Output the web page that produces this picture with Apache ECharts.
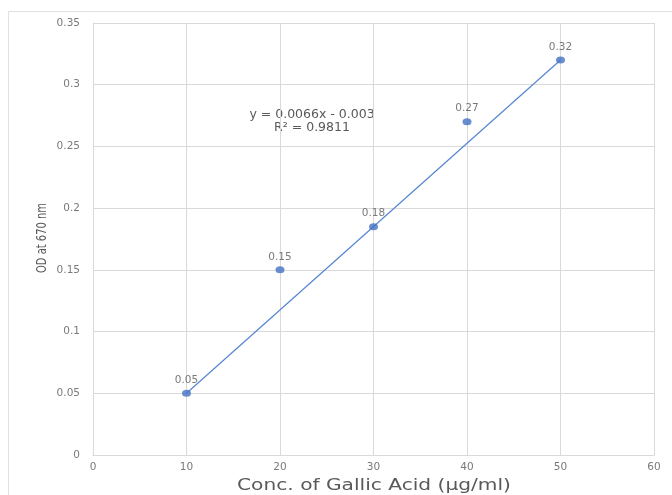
<!DOCTYPE html>
<html>
<head>
<meta charset="utf-8">
<script src="https://cdn.jsdelivr.net/npm/echarts@6/dist/echarts.min.js"></script>
<style>html,body{margin:0;padding:0;background:#fff;}#c{width:672px;height:495px;}</style>
</head>
<body>
<div id="c"></div>
<script>
var concX = [10, 20, 30, 40, 50];
var odY = [0.05, 0.15, 0.185, 0.27, 0.32];
var pointLabels = ['0.05', '0.15', '0.18', '0.27', '0.32'];
var trendX = [10, 50];
var trendY = [0.05, 0.32];
var xTicks = {min: 0, max: 60, interval: 10};
var yTicks = {min: 0, max: 0.35, interval: 0.05};
var equationLines = ['y = 0.0066x - 0.003', 'R² = 0.9811'];
var xTitle = 'Conc. of Gallic Acid (µg/ml)';
var yTitle = 'OD at 670 nm';

var chart = echarts.init(document.getElementById('c'));
var gridColor = '#d9d9d9';
var textColor = '#595959';
var tickColor = '#7a7a7a';
var wideFont = 'DejaVu Sans';
chart.setOption({
  animation: false,
  backgroundColor: '#fff',
  grid: {left: 93, top: 23, right: 18, bottom: 40, containLabel: false, outerBoundsMode: 'none'},
  xAxis: {
    type: 'value', min: xTicks.min, max: xTicks.max, interval: xTicks.interval,
    axisLine: {show: true, lineStyle: {color: gridColor, width: 1}},
    axisTick: {show: false},
    axisLabel: {color: tickColor, fontSize: 10.5, margin: 7, fontFamily: wideFont},
    splitLine: {show: true, lineStyle: {color: gridColor, width: 1}}
  },
  yAxis: {
    type: 'value', min: yTicks.min, max: yTicks.max, interval: yTicks.interval,
    axisLine: {show: true, lineStyle: {color: gridColor, width: 1}},
    axisTick: {show: false},
    axisLabel: {color: tickColor, fontSize: 10.5, margin: 13, fontFamily: wideFont},
    splitLine: {show: true, lineStyle: {color: gridColor, width: 1}}
  },
  series: [
    {
      type: 'line',
      data: trendX.map(function (x, i) { return [x, trendY[i]]; }),
      showSymbol: false, symbol: 'none',
      lineStyle: {color: '#5585d3', width: 1.2},
      silent: true, z: 2
    },
    {
      type: 'scatter',
      data: concX.map(function (x, i) { return [x, odY[i]]; }),
      symbol: 'circle', symbolSize: [9, 7],
      itemStyle: {color: '#4472C4'},
      label: {
        show: true, position: 'top', distance: 4,
        color: textColor, fontSize: 10.5, fontFamily: wideFont,
        formatter: function (p) { return pointLabels[p.dataIndex]; }
      },
      z: 3
    }
  ],
  graphic: [
    {type: 'rect', shape: {x: 8.5, y: 11.5, width: 700, height: 520}, style: {fill: 'none', stroke: '#e0e0e0', lineWidth: 1}, silent: true, z: -1},
    {type: 'text', x: 312, y: 115, style: {text: equationLines[0], fill: textColor, fontSize: 12.5, fontFamily: wideFont, align: 'center', verticalAlign: 'middle'}},
    {type: 'text', x: 312, y: 128, style: {text: equationLines[1], fill: textColor, fontSize: 12.5, fontFamily: wideFont, align: 'center', verticalAlign: 'middle'}},
    {type: 'text', x: 374, y: 486, scaleX: 1.26, style: {text: xTitle, fill: textColor, fontSize: 16, fontFamily: wideFont, align: 'center', verticalAlign: 'middle'}},
    {type: 'text', x: 42, y: 238, rotation: Math.PI / 2, scaleX: 0.82, style: {text: yTitle, fill: textColor, fontSize: 13.5, fontFamily: 'DejaVu Sans Condensed, Liberation Sans Narrow, sans-serif', align: 'center', verticalAlign: 'middle'}}
  ]
});
</script>
</body>
</html>
